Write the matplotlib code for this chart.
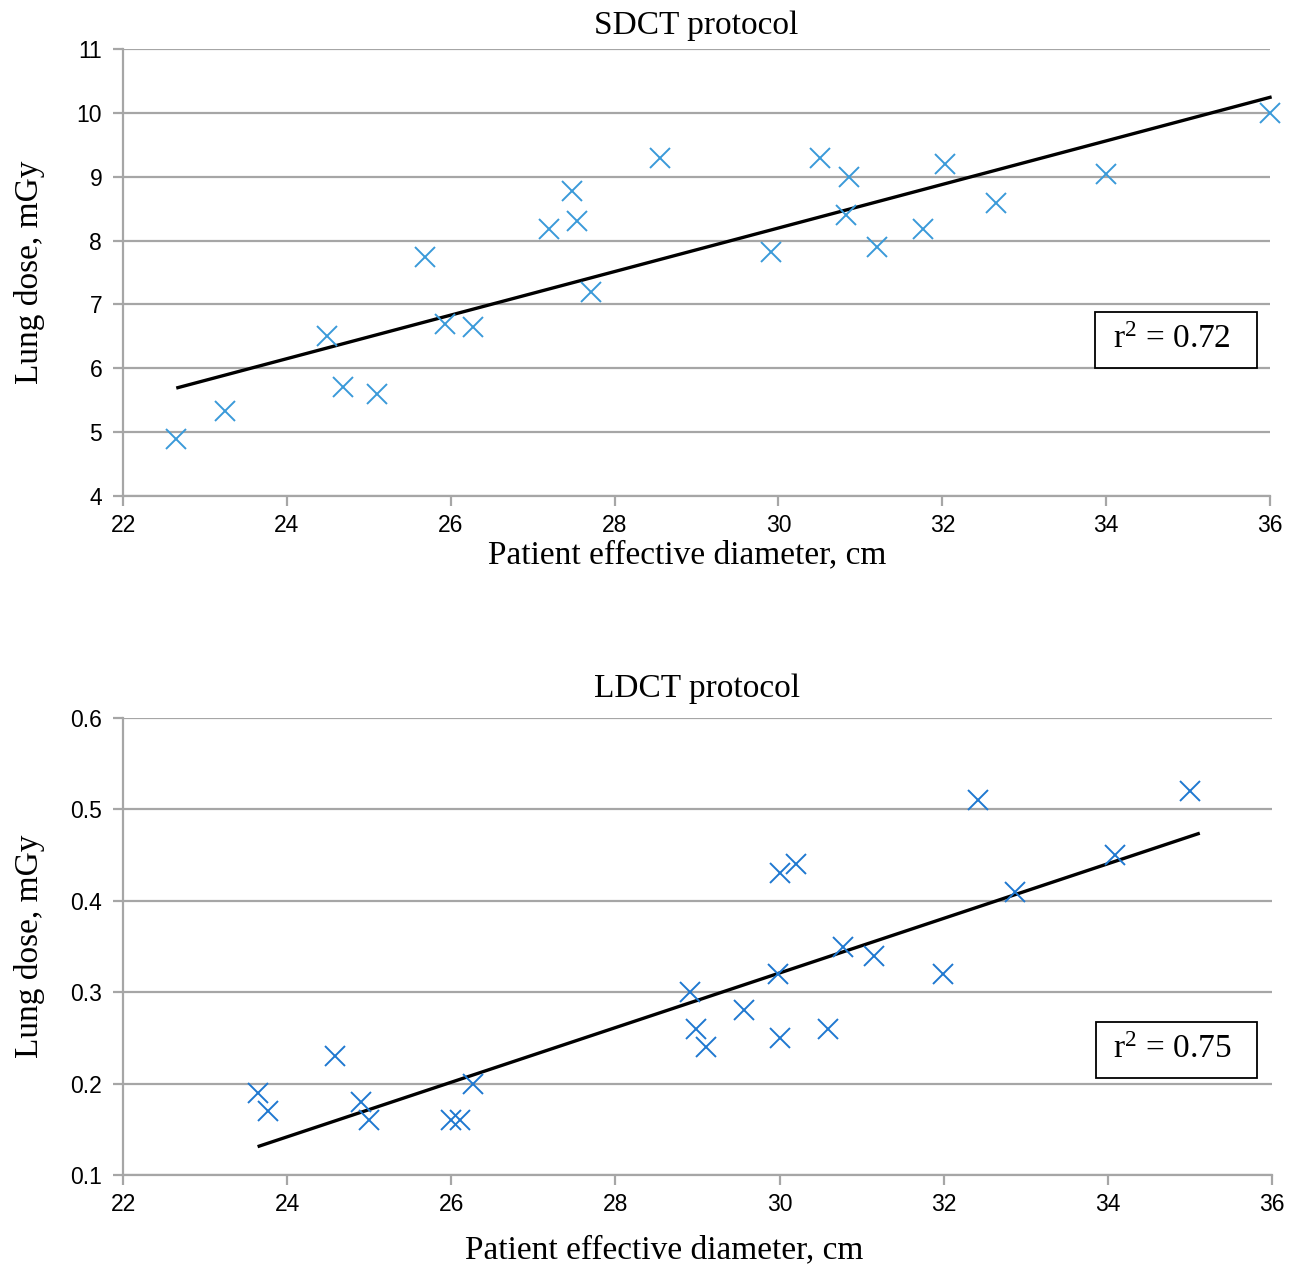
import matplotlib
matplotlib.use("Agg")
import matplotlib.pyplot as plt
from matplotlib.patches import Rectangle

plt.rcParams["mathtext.fontset"] = "custom"
plt.rcParams["mathtext.rm"] = "Liberation Serif"
plt.rcParams["mathtext.it"] = "Liberation Serif:italic"

# ---- data: SDCT protocol ----
sd_diam = [22.65, 23.24, 24.49, 24.69, 25.10, 25.69, 25.93, 26.27, 27.20, 27.48,
           27.54, 27.71, 28.55, 29.91, 30.51, 30.86, 30.82, 31.20, 31.76, 32.03,
           32.65, 34.00, 36.00]
sd_dose = [4.90, 5.33, 6.50, 5.70, 5.60, 7.74, 6.70, 6.65, 8.18, 8.78,
           8.30, 7.20, 9.29, 7.82, 9.29, 9.00, 8.40, 7.90, 8.18, 9.20,
           8.59, 9.04, 10.00]
sd_trend_x = [22.65, 36.02]
sd_trend_y = [5.69, 10.25]
sd_r2 = r"r$^{\mathrm{2}}$ = 0.72"

# ---- data: LDCT protocol ----
ld_diam = [23.64, 23.77, 24.58, 24.90, 25.00, 26.00, 26.11, 26.26, 28.91, 28.98,
           29.10, 29.57, 29.98, 30.00, 30.20, 30.00, 30.59, 30.77, 31.15, 31.99,
           32.42, 32.87, 34.09, 35.00]
ld_dose = [0.19, 0.17, 0.23, 0.18, 0.16, 0.16, 0.16, 0.20, 0.30, 0.26,
           0.24, 0.28, 0.32, 0.43, 0.44, 0.25, 0.26, 0.35, 0.34, 0.32,
           0.51, 0.41, 0.45, 0.52]
ld_trend_x = [23.64, 35.12]
ld_trend_y = [0.131, 0.474]
ld_r2 = r"r$^{\mathrm{2}}$ = 0.75"

x_ticks = [22, 24, 26, 28, 30, 32, 34, 36]
sd_yticks = [4, 5, 6, 7, 8, 9, 10, 11]
ld_yticks = [0.1, 0.2, 0.3, 0.4, 0.5, 0.6]

SERIF = ["Liberation Serif", "DejaVu Serif"]
SANS = ["Liberation Sans", "DejaVu Sans"]
GRID = "#a6a6a6"

fig = plt.figure(figsize=(13.03, 12.66), dpi=100)
ax1 = fig.add_axes([123/1303, 1-496/1266, 1147/1303, 447/1266])
ax2 = fig.add_axes([123/1303, 1-1175/1266, 1149/1303, 457/1266])


def style(ax, yticks, ylim, ylabels):
    ax.set_xlim(22, 36)
    ax.set_ylim(*ylim)
    ax.set_xticks(x_ticks)
    ax.set_yticks(yticks)
    ax.set_yticklabels(ylabels)
    ax.set_xticklabels([str(t) for t in x_ticks])
    for lab in ax.get_xticklabels() + ax.get_yticklabels():
        lab.set_fontfamily(SANS)
        lab.set_fontsize(16.5)
    for s in ["top", "right"]:
        ax.spines[s].set_visible(False)
    for s in ["left", "bottom"]:
        ax.spines[s].set_color(GRID)
        ax.spines[s].set_linewidth(1.6)
    ax.tick_params(axis="both", direction="out", length=7, width=1.6,
                   color=GRID, labelcolor="black", labelsize=16.5)
    ax.tick_params(axis="x", pad=6)
    ax.tick_params(axis="y", pad=8)
    ax.grid(axis="y", color=GRID, linewidth=1.6)
    ax.set_axisbelow(True)
    ax.set_ylabel("Lung dose, mGy", fontfamily=SERIF, fontsize=24)


style(ax1, sd_yticks, (4, 11), [str(t) for t in sd_yticks])
style(ax2, ld_yticks, (0.1, 0.6), [f"{t:.1f}" for t in ld_yticks])

ax1.plot(sd_trend_x, sd_trend_y, color="black", linewidth=2.4, zorder=3,
         solid_capstyle="butt", clip_on=False)
ax1.plot(sd_diam, sd_dose, linestyle="none", marker="x", markersize=14,
         markeredgewidth=1.4, color="#3a9ad9", zorder=4, clip_on=False)
ax2.plot(ld_trend_x, ld_trend_y, color="black", linewidth=2.4, zorder=3,
         solid_capstyle="butt", clip_on=False)
ax2.plot(ld_diam, ld_dose, linestyle="none", marker="x", markersize=14,
         markeredgewidth=1.4, color="#1f78d0", zorder=4, clip_on=False)

ax1.set_title("SDCT protocol", fontfamily=SERIF, fontsize=24, pad=11)
ax2.set_title("LDCT protocol", fontfamily=SERIF, fontsize=24, pad=15)
ax1.set_xlabel("Patient effective diameter, cm", fontfamily=SERIF, fontsize=24)
ax2.set_xlabel("Patient effective diameter, cm", fontfamily=SERIF, fontsize=24)
ax1.xaxis.set_label_coords(0.492, -0.098)
ax2.xaxis.set_label_coords(0.471, -0.131)
ax1.yaxis.set_label_coords(-0.068, 0.5)
ax2.yaxis.set_label_coords(-0.068, 0.5)

# r² annotation boxes
ax1.add_patch(Rectangle((0.8474, 0.2864), 0.1413, 0.1252, transform=ax1.transAxes,
                        facecolor="white", edgecolor="black", linewidth=1.3,
                        zorder=5, clip_on=False))
ax1.text(0.8631, 0.349, sd_r2, transform=ax1.transAxes, ha="left", va="center",
         fontfamily=SERIF, fontsize=24, zorder=6)
ax2.add_patch(Rectangle((0.8468, 0.2123), 0.1401, 0.1225, transform=ax2.transAxes,
                        facecolor="white", edgecolor="black", linewidth=1.3,
                        zorder=5, clip_on=False))
ax2.text(0.8616, 0.2735, ld_r2, transform=ax2.transAxes, ha="left", va="center",
         fontfamily=SERIF, fontsize=24, zorder=6)

fig.savefig("out.png", dpi=100)
